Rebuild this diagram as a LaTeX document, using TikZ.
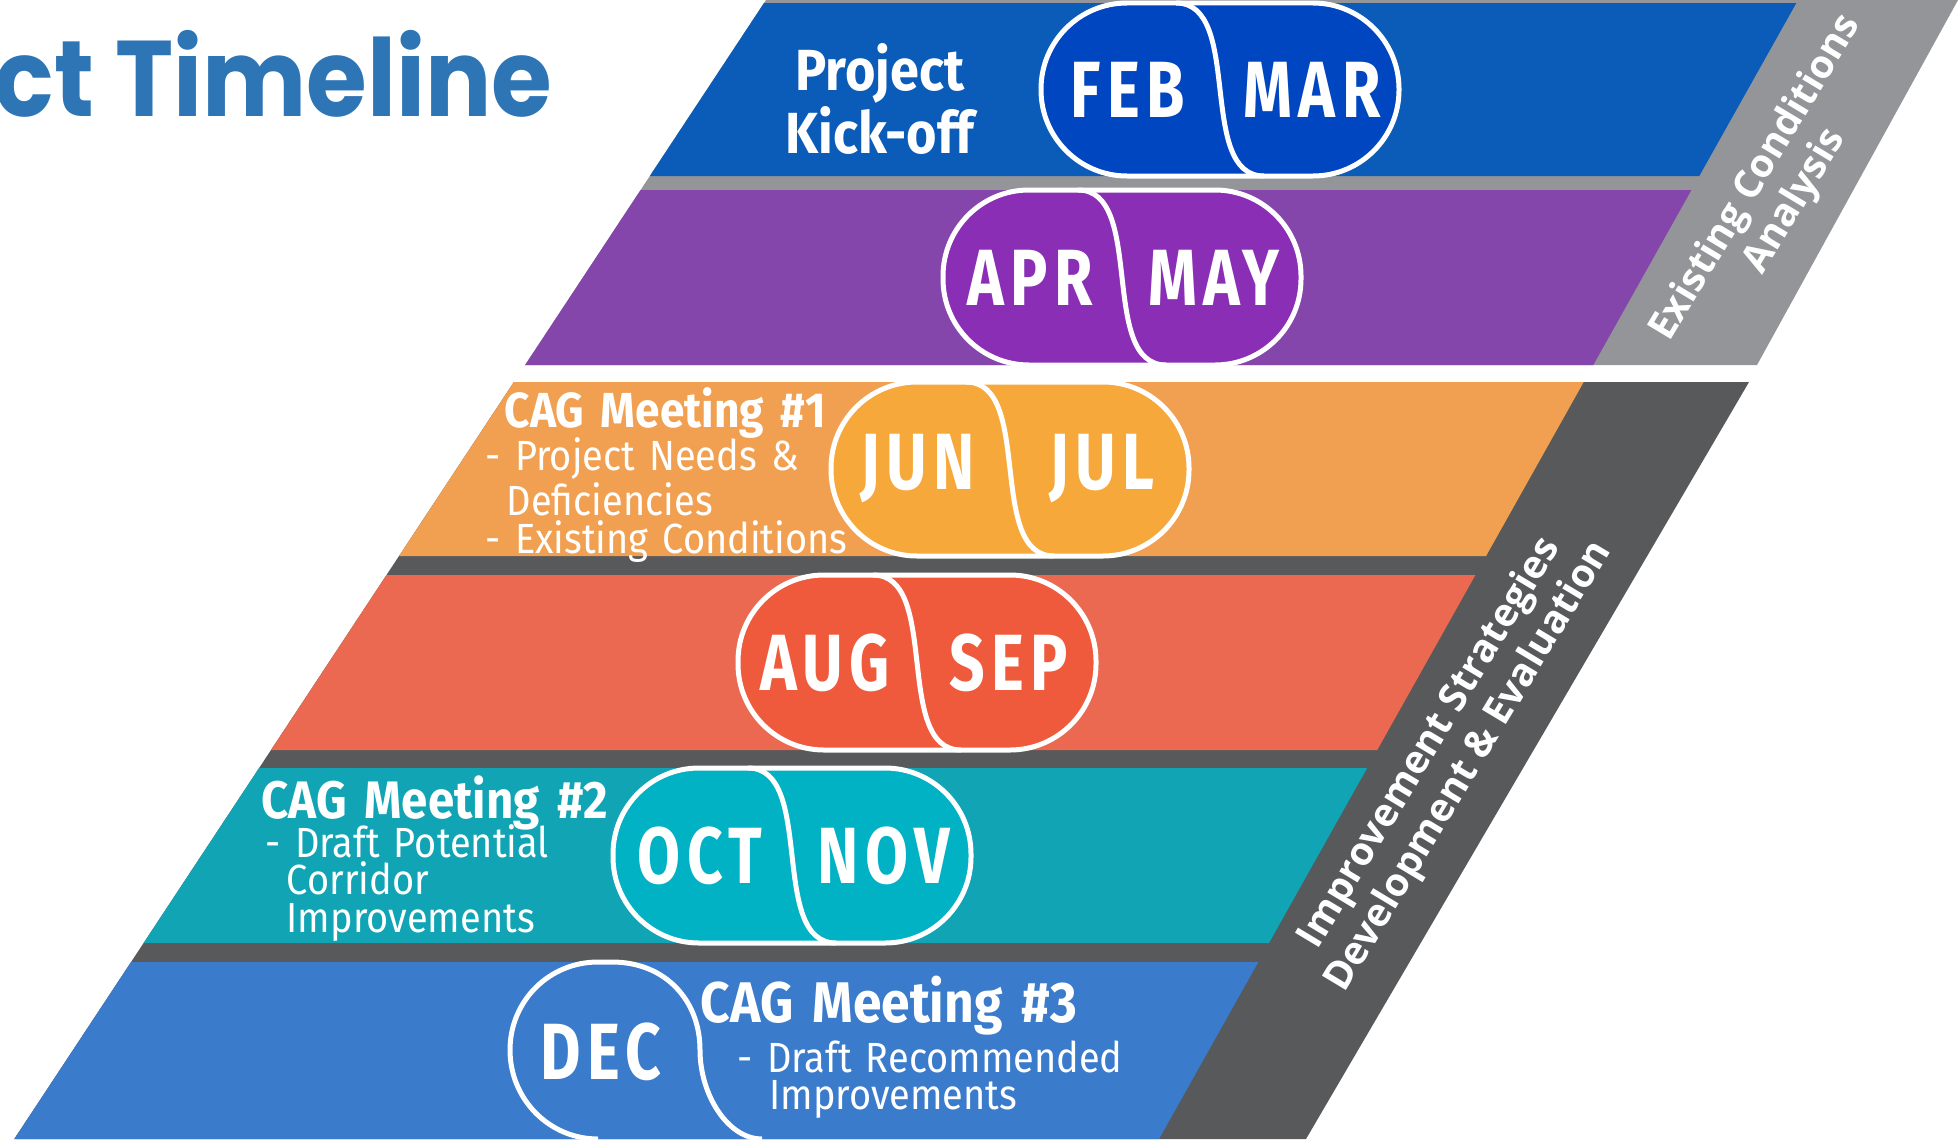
\documentclass[tikz,border=0pt]{standalone}
\usepackage{fontspec}
\setmainfont{Fira Sans}
\newfontfamily\titlefont[FakeStretch=0.915]{Poppins}
\newfontfamily\monthfont[FakeStretch=0.78,LetterSpace=8]{Fira Sans}
\newfontfamily\cagfont[FakeStretch=0.9]{Fira Sans}
\newfontfamily\sidefont{Open Sans}
\definecolor{titleblue}{HTML}{2E75B6}
\definecolor{lightband}{HTML}{939598}
\definecolor{darkband}{HTML}{58595B}
\definecolor{febband}{HTML}{0B5CB8}\definecolor{febpill}{HTML}{0046C0}
\definecolor{aprband}{HTML}{8446AA}\definecolor{aprpill}{HTML}{8A2EB6}
\definecolor{junband}{HTML}{F0A050}\definecolor{junpill}{HTML}{F6A83A}
\definecolor{augband}{HTML}{EA6950}\definecolor{augpill}{HTML}{EF5A3C}
\definecolor{octband}{HTML}{10A4B4}\definecolor{octpill}{HTML}{00B2C3}
\definecolor{decband}{HTML}{3A7BCB}
\tikzset{
  pill/.style={draw=white,line width=0.5mm,rounded corners=8.6mm},
  sep/.style={draw=white,line width=0.5mm},
  month/.style={text=white,inner sep=0,font=\monthfont\bfseries\fontsize{22.7}{24}\selectfont},
  cag/.style={text=white,inner sep=0,anchor=base west,align=left,text width=45mm},
  side/.style={text=white,inner sep=0,align=center,rotate=59,font=\sidefont\bfseries\fontsize{11.1}{13}\selectfont}
}
\begin{document}
\begin{tikzpicture}[x=0.1mm,y=-0.1mm]
\path[use as bounding box] (0,0) rectangle (1959,1139);
\clip (0,0) rectangle (1959,1139);
% phase strips behind the months
\fill[lightband] (766,0) -- (1958,0) -- (1757,365) -- ({766-0.66*365},365) -- cycle;
\fill[darkband] ({766-0.66*382},382) -- (1749,382) -- (1306,1139) -- ({766-0.66*1139},1139) -- cycle;
\foreach \t/\b/\c in {3/176/febband,190/365/aprband,382/556/junband,575/750/augband,768/943/octband,962/1139/decband}
  \fill[\c] ({766-0.66*\t},\t) -- ({1798-0.561*\t},\t) -- ({1798-0.561*\b},\b) -- ({766-0.66*\b},\b) -- cycle;
% month pairs
\foreach \m/\t/\b/\c/\p/\q in {1220/3/176/febpill/FEB/MAR,1122/190/365/aprpill/APR/MAY,1010/382/556/junpill/JUN/JUL,917/575/750/augpill/AUG/SEP,792/768/943/octpill/OCT/NOV}
{\draw[pill,fill=\c] ({\m-179},\t) rectangle ({\m+179},\b);
 \draw[sep] ({\m-44},\t) .. controls ({\m+24},\t) and ({\m-24},\b) .. ({\m+44},\b);
 \node[month] (\p) at ({\m-92},{(\t+\b)/2}) {\p};
 \node[month] (\q) at ({\m+92},{(\t+\b)/2}) {\q};}
\draw[sep] (598,1139) .. controls (549.4,1139) and (510,1099.4) .. (510,1050) .. controls (510,1000.6) and (549.4,962) .. (598,962) -- (612,962) .. controls (665,962) and (700,1000) .. (700,1050) .. controls (700,1095) and (728,1139) .. (762,1139);
\node[month] (DEC) at (601,1052) {DEC};
% texts
\node[text=white,inner sep=0,anchor=base,align=center,text width=40mm,font=\cagfont\bfseries\fontsize{16.5}{17}\selectfont] (kickoff) at (880,90) {Project\\Kick-off};
\node[cag,font=\cagfont\bfseries\fontsize{14}{16}\selectfont] (cagone) at (504,427) {CAG Meeting \#1};
\node[cag,font=\cagfont\fontsize{12}{10.8}\selectfont] (cagonelist) at (485,470) {- Project Needs \&\\\hspace*{6pt}Deficiencies\\- Existing Conditions};
\node[cag,font=\cagfont\bfseries\fontsize{15}{16}\selectfont] (cagtwo) at (261,818) {CAG Meeting \#2};
\node[cag,font=\cagfont\fontsize{12}{10.8}\selectfont] (cagtwolist) at (265,857) {- Draft Potential\\\hspace*{6pt}Corridor\\\hspace*{6pt}Improvements};
\node[cag,font=\cagfont\bfseries\fontsize{16.3}{18}\selectfont] (cagthree) at (700,1022) {CAG Meeting \#3};
\node[cag,font=\cagfont\fontsize{12}{10.7}\selectfont] (cagthreelist) at (737,1072) {- Draft Recommended\\\hspace*{9pt}Improvements};
\node[side] (existing) at (1776,190) {Existing Conditions\\Analysis};
\node[side] (improve) at (1450,755) {Improvement Strategies\\Development \& Evaluation};
\node[anchor=base east,inner sep=0,text=titleblue,font=\titlefont\bfseries\fontsize{30.6}{36}\selectfont] (title) at (553,116) {ct Timeline};
\end{tikzpicture}
\end{document}
